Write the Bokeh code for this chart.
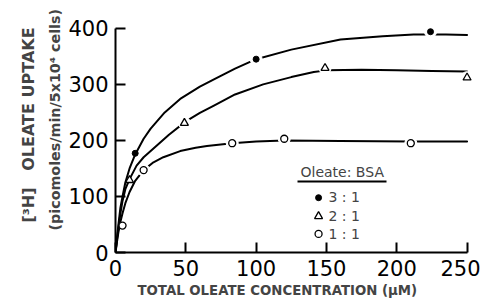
import numpy as np
from bokeh.plotting import figure
from bokeh.models import Range1d, FixedTicker, Label, BoxAnnotation, Title
from bokeh.embed import file_html
from bokeh.resources import INLINE

# ---- measured data points (oleate uptake, pmol/min/5x10^4 cells) ----
x_31 = [14, 100, 224]
y_31 = [177, 345, 394]
x_21 = [10, 49, 149, 250]
y_21 = [129, 231, 329, 312]
x_11 = [5, 20, 83, 120, 210]
y_11 = [48, 147, 195, 203, 195]

# ---- hand-drawn curves ----
cx_31 = [0, 1, 2, 3.5, 5, 7, 10, 14, 20, 25, 35, 46, 60, 70, 85, 100, 125, 160, 190, 212, 235, 250]
cy_31 = [0, 25, 48, 80, 100, 125, 150, 175, 203, 221, 250, 274, 296, 309, 328, 345, 362, 380, 386, 389, 389, 388]
cx_21 = [0, 1, 2, 3.5, 5, 7, 10, 15, 20, 28, 38, 50, 60, 70, 85, 105, 125, 141, 150, 175, 200, 225, 250]
cy_21 = [0, 22, 42, 70, 92, 113, 131, 155, 170, 188, 210, 234, 249, 262, 282, 300, 313, 322, 325, 326, 325, 324, 323]
cx_11 = [0, 1, 2, 3.5, 5, 7, 10, 14, 20, 27, 34, 46, 57, 65, 83, 100, 120, 160, 210, 250]
cy_11 = [0, 18, 35, 55, 70, 88, 108, 128, 147, 161, 170, 181, 187, 190, 195, 198, 200, 199, 198, 198]

x_ticks = [0, 50, 100, 150, 200, 250]
y_ticks = [0, 100, 200, 300, 400]

legend_title = "Oleate: BSA"
legend_labels = ["3 : 1", "2 : 1", "1 : 1"]

FONT = "DejaVu Sans"

p = figure(width=480, height=300, x_range=Range1d(0, 256), y_range=Range1d(0, 414),
           output_backend="svg", toolbar_location=None,
           min_border_left=115, min_border_right=5, min_border_top=20, min_border_bottom=43)
p.outline_line_color = None
p.grid.visible = False
p.background_fill_color = "white"

for ax, ticks, b in ((p.xaxis, x_ticks, (0, 250)), (p.yaxis, y_ticks, (0, 400))):
    ax.ticker = FixedTicker(ticks=ticks)
    ax.bounds = b
    ax.axis_line_width = 2
    ax.axis_line_color = "black"
    ax.major_tick_line_width = 2
    ax.major_tick_line_color = "black"
    ax.major_tick_in = 10
    ax.major_tick_out = 0
    ax.minor_tick_line_color = None
    ax.major_label_text_font = FONT
    ax.major_label_text_font_size = "21px"
    ax.major_label_text_color = "black"
    ax.major_label_standoff = 7

# curves
for cx, cy in ((cx_31, cy_31), (cx_21, cy_21), (cx_11, cy_11)):
    p.line(cx, cy, line_color="black", line_width=2, line_join="round", line_cap="round")

# white gaps around points (hand-drawn break in the curve)
for xs, ys in ((x_31, y_31), (x_21, y_21), (x_11, y_11)):
    hx = [x for x in xs if x >= 15]
    hy = [y for x, y in zip(xs, ys) if x >= 15]
    p.scatter(hx, hy, size=12, color="white")

p.scatter(x_31, y_31, marker="circle", size=6, fill_color="black", line_color="black")
p.scatter(x_21, y_21, marker="triangle", size=8, fill_color="white", line_color="black", line_width=1.3)
p.scatter(x_11, y_11, marker="circle", size=7, fill_color="white", line_color="black", line_width=1.3)

# legend (manual, to match the original layout)
leg_mx = 144.4
leg_my = [97.8, 64.6, 33.2]
p.scatter([leg_mx], [leg_my[0]], marker="circle", size=6, fill_color="black", line_color="black")
p.scatter([leg_mx], [leg_my[1]], marker="triangle", size=8, fill_color="white", line_color="black", line_width=1.3)
p.scatter([leg_mx], [leg_my[2]], marker="circle", size=7, fill_color="white", line_color="black", line_width=1.3)
p.add_layout(Label(x=185, y=81, x_units="screen", y_units="screen", text=legend_title,
                   text_font=FONT, text_font_size="14px", text_align="left", text_baseline="middle"))
p.add_layout(BoxAnnotation(left=182, right=271, bottom=70, top=72, left_units="screen", right_units="screen",
                           top_units="screen", bottom_units="screen", fill_color="black", fill_alpha=1,
                           line_color=None))
for lab, sy in zip(legend_labels, [56, 37, 19]):
    p.add_layout(Label(x=213, y=sy, x_units="screen", y_units="screen", text=lab,
                       text_font=FONT, text_font_size="14px", text_align="left", text_baseline="middle"))

# axis titles as side-panel titles
p.add_layout(Title(text="TOTAL OLEATE CONCENTRATION (\u03bcM)", align="left", offset=22, standoff=5,
                   text_font=FONT, text_font_style="bold", text_font_size="13.3px"), "below")
p.add_layout(Title(text="(picomoles/min/5x10\u2074 cells)", align="left", offset=22, standoff=5,
                   text_font=FONT, text_font_style="bold", text_font_size="14.3px"), "left")
p.add_layout(Title(text="[\u00b3H]\u00a0\u00a0\u00a0OLEATE UPTAKE", align="left", offset=30, standoff=9,
                   text_font=FONT, text_font_style="bold", text_font_size="16px"), "left")

open("out.html", "w").write(file_html(p, INLINE))
